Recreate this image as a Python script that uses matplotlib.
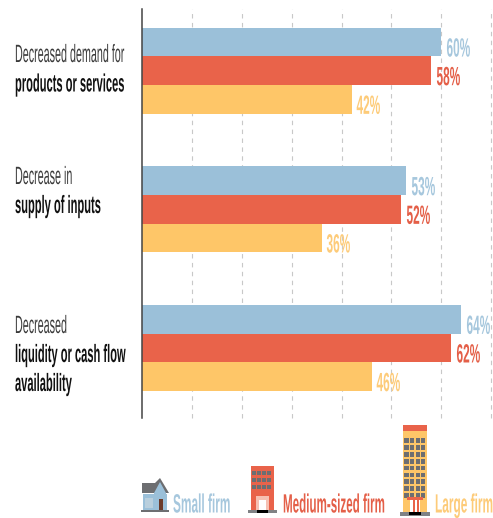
import matplotlib
matplotlib.use("Agg")
import matplotlib.pyplot as plt
import numpy as np
from matplotlib.colors import to_rgb
from matplotlib.font_manager import FontProperties
from matplotlib.patches import Rectangle, Polygon
from matplotlib.path import Path
from matplotlib.text import Text
from matplotlib.textpath import TextPath
from matplotlib.transforms import Affine2D, Bbox, ScaledTranslation

groups = ["Decreased demand", "Decrease in supply", "Decreased liquidity"]
small_firm = [60, 53, 64]
medium_firm = [58, 52, 62]
large_firm = [42, 36, 46]
series_names = ["Small firm", "Medium-sized firm", "Large firm"]
grid_positions = [10, 20, 30, 40, 50, 60, 70]

BLUE, RED, YELLOW = "#9BC0D9", "#E9634A", "#FEC668"
BLUE_TXT, RED_TXT, YELLOW_TXT = "#A6C7DD", "#E45F48", "#FDCB79"
GRAY = "#6D6E71"
SANS = ["Liberation Sans"]


class CondensedText(Text):
    """Text drawn from its glyph outlines with a horizontal squeeze factor."""

    def __init__(self, *args, squeeze=0.7, **kwargs):
        super().__init__(*args, **kwargs)
        self.squeeze = squeeze

    def _outline(self, dpi):
        tp = TextPath((0, 0), self.get_text(), size=self.get_fontsize(),
                      prop=self.get_fontproperties())
        x, y = self.get_transform().transform(self.get_unitless_position())
        k = dpi / 72
        return Path(tp.vertices.copy(), tp.codes), \
            Affine2D().scale(k * self.squeeze, k).translate(x, y)

    def get_window_extent(self, renderer=None, dpi=None):
        path, tr = self._outline(dpi or self.figure.dpi)
        return Bbox(path.transformed(tr).get_extents())

    def draw(self, renderer):
        if not self.get_visible():
            return
        path, tr = self._outline(self.figure.dpi)
        gc = renderer.new_gc()
        gc.set_linewidth(0)
        gc.set_antialiased(True)
        renderer.draw_path(gc, path, tr, to_rgb(self.get_color()))
        gc.restore()


W, H = 493, 518
fig = plt.figure(figsize=(W / 100, H / 100), dpi=100, facecolor="white")

# Bar panel: 0-70 % across, three groups down
ax = fig.add_axes([141.5 / W, 1 - 418 / H, 350 / W, 409 / H])
ax.set_xlim(0, 70)
ax.set_ylim(2.505, -0.445)
ax.set_facecolor("none")
bar_h = 0.2065
y = np.arange(len(groups))
for vals, offs, col in [(small_firm, -1, BLUE), (medium_firm, 0, RED), (large_firm, 1, YELLOW)]:
    ax.barh(y + offs * bar_h, vals, height=bar_h, color=col, zorder=3)
for g in grid_positions:
    ax.axvline(g, color="#C8C8C8", lw=0.8, ls=(0, (4, 4)), zorder=1, clip_on=False)
for s in ["top", "right", "bottom"]:
    ax.spines[s].set_visible(False)
ax.spines["left"].set_color("#444444")
ax.spines["left"].set_linewidth(1.1)
ax.spines["left"].set_zorder(5)
ax.set_xticks([])
ax.set_yticks([])

# Value labels, set just past each bar end and sitting low against the bar
shift = ScaledTranslation(5 / 100, -14.5 / 100, fig.dpi_scale_trans)
bold = FontProperties(family=SANS, weight="bold", size=18)
regular = FontProperties(family=SANS, size=18)
value_fp = FontProperties(family=SANS, weight="bold", size=19)
for vals, offs, col in [(small_firm, -1, BLUE_TXT), (medium_firm, 0, RED_TXT), (large_firm, 1, YELLOW_TXT)]:
    for i, v in enumerate(vals):
        t = CondensedText(v, i + offs * bar_h, f"{v}%", squeeze=0.45, color=col,
                          fontproperties=value_fp, transform=ax.transData + shift)
        t.set_clip_on(False)
        ax.add_artist(t)

# Overlay in pixel units for category text and the legend pictograms
ov = fig.add_axes([0, 0, 1, 1])
ov.set_xlim(0, W)
ov.set_ylim(H, 0)
ov.axis("off")
ov.patch.set_alpha(0)


def label(x, base, s, fp, col, squeeze):
    ov.add_artist(CondensedText(x, base, s, squeeze=squeeze, color=col,
                                fontproperties=fp, transform=ov.transData))


category_lines = [
    (15, 62, "Decreased demand for", regular, 0.43),
    (15, 91.5, "products or services", bold, 0.445),
    (15, 184, "Decrease in", regular, 0.43),
    (15, 213, "supply of inputs", bold, 0.445),
    (15, 333, "Decreased", regular, 0.43),
    (15, 362, "liquidity or cash flow", bold, 0.445),
    (15, 391, "availability", bold, 0.445),
]
for x, b, s, fp, sq in category_lines:
    label(x, b, s, fp, "#3A3A3A" if fp is regular else "#111111", sq)

legend_fp = FontProperties(family=SANS, weight="bold", size=19)
label(173, 512.5, series_names[0], legend_fp, BLUE_TXT, 0.45)
label(283, 512.5, series_names[1], legend_fp, RED_TXT, 0.44)
label(435, 512.5, series_names[2], legend_fp, YELLOW_TXT, 0.45)


def rect(x0, y0, x1, y1, c):
    ov.add_patch(Rectangle((x0, y0), x1 - x0, y1 - y0, fc=c, ec="none"))


def windows(x0, y0, cols, rows, w, h, dx, dy):
    for r in range(rows):
        for c in range(cols):
            rect(x0 + c * dx, y0 + r * dy, x0 + c * dx + w, y0 + r * dy + h, GRAY)


# House
rect(143, 494, 167, 510, BLUE)
ov.add_patch(Polygon([(142, 483), (155, 483), (160, 478), (169, 493), (142, 493)], fc=GRAY, ec="none"))
ov.add_patch(Polygon([(154, 493), (160, 482), (166, 493), (166, 510), (154, 510)], fc=BLUE, ec="none"))
rect(159, 499, 163, 510, "#6B3A2A")
rect(145, 498, 153, 508, "#B9CFDD")
rect(141, 509.5, 169, 512, GRAY)

# Mid-rise office
rect(251, 466, 274, 510, RED)
windows(252, 470.5, 4, 3, 4, 4.5, 5.1, 7)
rect(256, 496, 269, 510, "#F6C0B2")
rect(259, 500, 266, 510, "white")
rect(247.5, 510, 277, 513, "#808285")
rect(257, 510, 268, 512.5, "black")

# Tower
rect(403, 425, 427, 431, RED)
rect(403, 431, 427, 512, YELLOW)
windows(404.3, 438, 4, 9, 4.2, 4.8, 5.6, 6.9)
rect(407, 497, 423, 500, RED)
rect(410, 500, 420, 512, "white")
rect(413, 500, 415, 512, RED)
rect(417, 500, 419, 512, RED)
rect(400, 512, 430, 515.5, "#808285")
rect(409, 512, 421, 515, "black")

fig.savefig("out.png", dpi=100, facecolor="white")
